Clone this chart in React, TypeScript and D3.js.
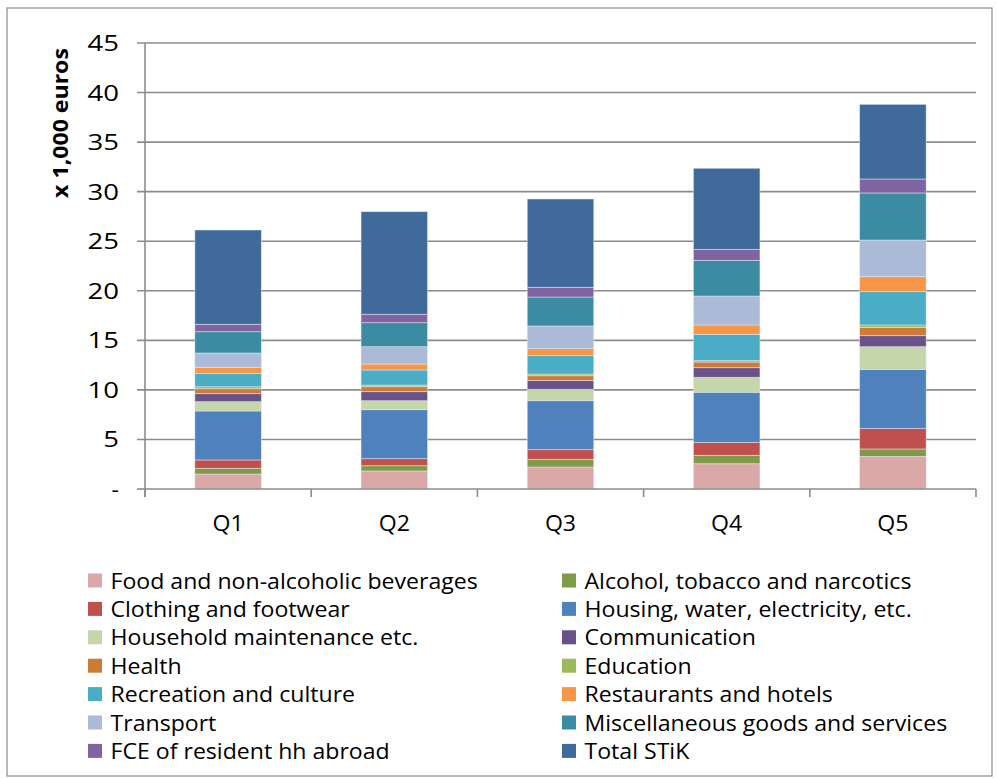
import React from "react";
import * as d3 from "d3";

const categories = ["Q1", "Q2", "Q3", "Q4", "Q5"];

const seriesNames = [
  "Food and non-alcoholic beverages",
  "Alcohol, tobacco and narcotics",
  "Clothing and footwear",
  "Housing, water, electricity, etc.",
  "Household maintenance etc.",
  "Communication",
  "Health",
  "Education",
  "Recreation and culture",
  "Restaurants and hotels",
  "Transport",
  "Miscellaneous goods and services",
  "FCE of resident hh abroad",
  "Total STiK",
];

const seriesColors = [
  "#D9A8A7",
  "#7F9A48",
  "#C0504D",
  "#4F81BD",
  "#C5D6AA",
  "#6A5187",
  "#CC7B38",
  "#9BBB59",
  "#4BACC6",
  "#F79646",
  "#AABAD7",
  "#3B8BA2",
  "#8064A2",
  "#3F6A9A",
];

// values (x 1,000 euros) per series, Q1..Q5
const food = [1.51, 1.82, 2.22, 2.55, 3.29];
const alcohol = [0.58, 0.53, 0.77, 0.85, 0.75];
const clothing = [0.84, 0.71, 0.98, 1.31, 2.08];
const housing = [4.94, 4.94, 4.94, 5.05, 5.95];
const household = [0.94, 0.91, 1.15, 1.51, 2.29];
const communication = [0.81, 0.91, 0.9, 0.97, 1.11];
const health = [0.5, 0.5, 0.47, 0.57, 0.84];
const education = [0.2, 0.17, 0.17, 0.14, 0.24];
const recreation = [1.35, 1.52, 1.85, 2.66, 3.36];
const restaurants = [0.61, 0.6, 0.71, 0.94, 1.51];
const transport = [1.44, 1.75, 2.29, 2.92, 3.7];
const misc = [2.15, 2.42, 2.92, 3.6, 4.75];
const fce = [0.75, 0.85, 0.98, 1.11, 1.41];
const totalStik = [9.51, 10.35, 8.91, 8.18, 7.53];

const seriesValues = [
  food, alcohol, clothing, housing, household, communication, health,
  education, recreation, restaurants, transport, misc, fce, totalStik,
];

const yTicks = [0, 5, 10, 15, 20, 25, 30, 35, 40, 45];
const yTickLabels = ["-", "5", "10", "15", "20", "25", "30", "35", "40", "45"];
const yTitle = "x 1,000 euros";

const W = 998;
const H = 778;
const FONT = "'Open Sans', 'Liberation Sans', Arial, sans-serif";
const SX = 1.05;

function T(props: {
  x: number;
  y: number;
  anchor?: "start" | "middle" | "end";
  size: number;
  weight?: string;
  rotate?: number;
  sx?: number;
  children: React.ReactNode;
}) {
  const s = props.sx ?? SX;
  const r = props.rotate ? ` rotate(${props.rotate})` : "";
  return (
    <text
      transform={`translate(${props.x},${props.y})${r} scale(${s},1)`}
      textAnchor={props.anchor ?? "start"}
      fontFamily={FONT}
      fontSize={props.size}
      fontWeight={props.weight ?? "normal"}
      fill="#000"
    >
      {props.children}
    </text>
  );
}

export default function App() {
  const plot = { left: 145, right: 976, top: 43, bottom: 489 };
  const x = d3
    .scaleBand<string>()
    .domain(categories)
    .range([plot.left, plot.right])
    .paddingInner(0.6)
    .paddingOuter(0.3);
  const y = d3.scaleLinear().domain([0, 45]).range([plot.bottom, plot.top]);

  const table = categories.map((c, i) => {
    const row: any = { cat: c };
    seriesNames.forEach((s, k) => (row[s] = seriesValues[k][i]));
    return row;
  });
  const stacked = d3.stack().keys(seriesNames)(table);

  const band = (plot.right - plot.left) / categories.length;
  const boundaries = d3.range(categories.length + 1).map((i) => plot.left + i * band);

  const gridColor = "#8C8C8C";

  return (
    <svg width={W} height={H} style={{ display: "block", position: "absolute", left: 0, top: 0 }}>
      <rect x={0} y={0} width={W} height={H} fill="#fff" />
      <rect x={7} y={8} width={985} height={768} fill="#fff" stroke="#8C8C8C" strokeWidth={1.2} />

      {/* gridlines */}
      {yTicks.slice(1).map((t) => (
        <line key={t} x1={plot.left - 8} x2={plot.right} y1={y(t)} y2={y(t)} stroke={gridColor} strokeWidth={1.6} />
      ))}
      <line x1={plot.left - 8} x2={plot.left} y1={y(0)} y2={y(0)} stroke={gridColor} strokeWidth={1.6} />

      {/* bars */}
      {stacked.map((layer, k) => (
        <g key={k} fill={seriesColors[k]}>
          {layer.map((d, i) => (
            <rect
              key={i}
              x={x(categories[i])}
              width={x.bandwidth()}
              y={y(d[1])}
              height={y(d[0]) - y(d[1])}
              stroke="#E6EDF6"
              strokeOpacity={0.6}
              strokeWidth={0.8}
            />
          ))}
        </g>
      ))}

      {/* axes */}
      <line x1={plot.left} x2={plot.left} y1={plot.top} y2={plot.bottom + 8} stroke={gridColor} strokeWidth={1.6} />
      <line x1={plot.left} x2={plot.right} y1={plot.bottom} y2={plot.bottom} stroke={gridColor} strokeWidth={1.6} />
      {boundaries.map((bx, i) => (
        <line key={i} x1={bx} x2={bx} y1={plot.bottom} y2={plot.bottom + 8} stroke={gridColor} strokeWidth={1.6} />
      ))}

      {/* y tick labels */}
      {yTicks.map((t, i) => (
        <T key={t} x={119} y={y(t) + 8} anchor="end" size={22} sx={t === 0 ? 1.05 : 1.25}>
          {yTickLabels[i]}
        </T>
      ))}

      {/* x labels */}
      {categories.map((c) => (
        <T key={c} x={x(c)! + x.bandwidth() / 2} y={531} anchor="middle" size={22}>
          {c}
        </T>
      ))}

      {/* y title */}
      <T x={68} y={123} anchor="middle" size={21} weight="bold" rotate={-90} sx={1.1}>
        {yTitle}
      </T>

      {/* legend */}
      {seriesNames.map((s, k) => {
        const col = k % 2;
        const row = Math.floor(k / 2);
        const sx = col === 0 ? 88 : 562;
        const cy = 580.5 + row * 28.4;
        return (
          <g key={s}>
            <rect x={sx} y={cy - 7} width={14} height={14} fill={seriesColors[k]} />
            <T x={sx + 22.5} y={cy + 8} size={22}>
              {s}
            </T>
          </g>
        );
      })}
    </svg>
  );
}
